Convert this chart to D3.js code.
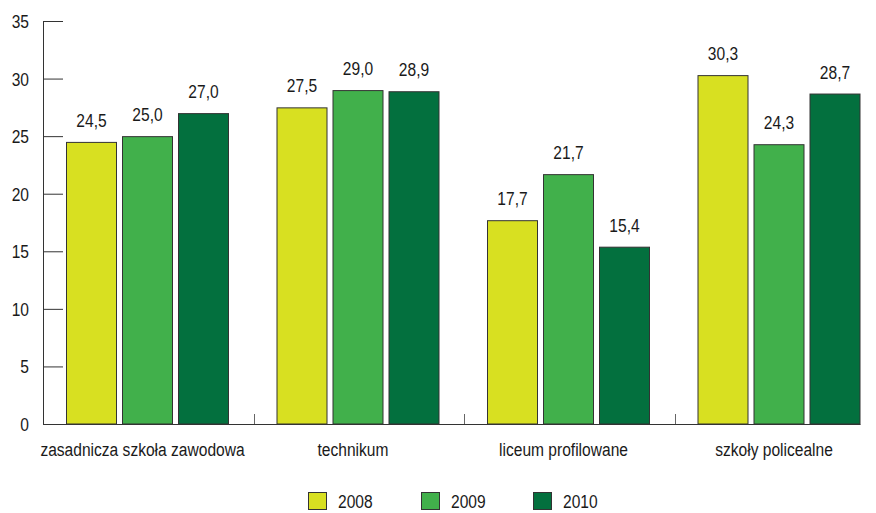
<!DOCTYPE html>
<html>
<head>
<meta charset="utf-8">
<script src="https://cdn.jsdelivr.net/npm/d3@7"></script>
<style>
  body { margin: 0; background: #fff; }
  svg text { font-family: "Liberation Sans", Arial, sans-serif; fill: #1a1a1a; }
</style>
</head>
<body>
<svg id="chart" width="876" height="513"></svg>
<script>
const categories = ["zasadnicza szkoła zawodowa", "technikum", "liceum profilowane", "szkoły policealne"];
const seriesNames = ["2008", "2009", "2010"];
const values2008 = [24.5, 27.5, 17.7, 30.3];
const values2009 = [25.0, 29.0, 21.7, 24.3];
const values2010 = [27.0, 28.9, 15.4, 28.7];
const yTicks = [0, 5, 10, 15, 20, 25, 30, 35];
const colors = ["#d8e021", "#41b04b", "#03703e"];

const seriesValues = [values2008, values2009, values2010];
const svg = d3.select("#chart");
const FS = "19px", SX = 0.82;
const place = (x, y) => `translate(${x},${y}) scale(${SX},1)`;

const plotLeft = 43, catW = 210.5, plotTop = 21, plotBottom = 424;
const x0 = d3.scaleBand().domain(categories).range([plotLeft, plotLeft + catW * categories.length]).paddingInner(0).paddingOuter(0);
const y = d3.scaleLinear().domain([0, 35]).range([plotBottom, plotTop]);

const barW = 51, barStep = 56, groupOffset = 23;
const x1 = d3.scaleBand().domain(seriesNames).range([groupOffset, groupOffset + barStep * 3]).paddingInner(0);

// bars
const groups = svg.append("g").selectAll("g").data(categories).join("g")
  .attr("transform", d => `translate(${x0(d)},0)`);
groups.selectAll("rect").data((c, ci) => seriesNames.map((s, si) => ({s, si, v: seriesValues[si][ci]})))
  .join("rect")
  .attr("x", d => x1(d.s) + 0.5)
  .attr("y", d => y(d.v) + 0.5)
  .attr("width", barW - 1)
  .attr("height", d => plotBottom - y(d.v) - 0.5)
  .attr("fill", d => colors[d.si])
  .attr("stroke", "#333")
  .attr("stroke-width", 1);
groups.selectAll("text.val").data((c, ci) => seriesNames.map((s, si) => ({s, si, v: seriesValues[si][ci]})))
  .join("text").attr("class", "val")
  .attr("transform", d => place(x1(d.s) + barW / 2, y(d.v) - 15))
  .attr("text-anchor", "middle")
  .attr("font-size", FS)
  .text(d => d.v.toFixed(1).replace(".", ","));

// y axis
const yAxis = d3.axisRight(y).tickValues(yTicks).tickSize(20).tickFormat("");
const gy = svg.append("g").attr("transform", `translate(${plotLeft},0)`).call(yAxis);
gy.select(".domain").remove();
gy.selectAll(".tick line").attr("stroke", "#333");
svg.append("line").attr("x1", plotLeft + 0.5).attr("x2", plotLeft + 0.5).attr("y1", plotTop).attr("y2", plotBottom).attr("stroke", "#333");
svg.append("g").selectAll("text").data(yTicks).join("text")
  .attr("transform", d => place(29, y(d) + 7))
  .attr("text-anchor", "end").attr("font-size", FS)
  .text(d => d);

// x axis
const lastEnd = x0(categories[categories.length - 1]) + x1(seriesNames[2]) + barW;
svg.append("line").attr("x1", plotLeft).attr("x2", lastEnd).attr("y1", plotBottom + 0.5).attr("y2", plotBottom + 0.5).attr("stroke", "#333");
svg.append("g").selectAll("line").data(categories.slice(1)).join("line")
  .attr("x1", d => Math.round(x0(d)) + 0.5).attr("x2", d => Math.round(x0(d)) + 0.5)
  .attr("y1", plotBottom).attr("y2", plotBottom - 10).attr("stroke", "#666");
svg.append("g").selectAll("text").data(categories).join("text")
  .attr("transform", d => place(x0(d) + groupOffset + barStep * 1.5 - 2.5 - 5, 456))
  .attr("text-anchor", "middle").attr("font-size", FS)
  .text(d => d);

// legend
const legX = [308, 421, 533];
const leg = svg.append("g").selectAll("g").data(seriesNames).join("g")
  .attr("transform", (d, i) => `translate(${legX[i]},492)`);
leg.append("rect").attr("x", 0.5).attr("y", 0.5).attr("width", 18).attr("height", 17)
  .attr("fill", (d, i) => colors[i]).attr("stroke", "#333");
leg.append("text").attr("transform", place(30, 16)).attr("font-size", FS).text(d => d);
</script>
</body>
</html>
